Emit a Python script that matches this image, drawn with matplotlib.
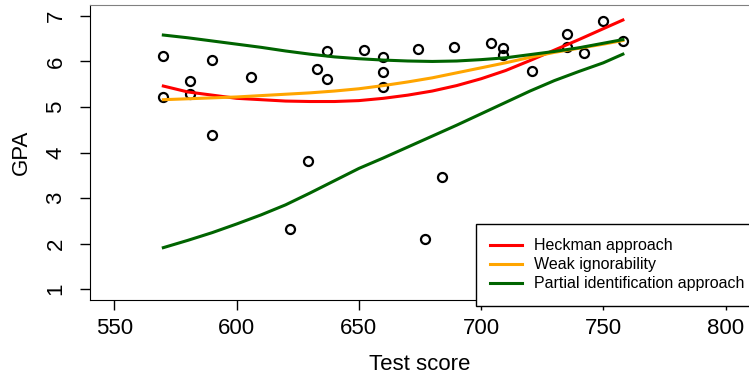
"""GPA vs test score with three fitted approaches."""

import matplotlib

matplotlib.use("Agg")
import matplotlib.pyplot as plt

plt.rcParams["font.family"] = ["Liberation Sans", "DejaVu Sans"]

# observed points
score = [570, 570, 581, 581, 590, 590, 606, 622, 629, 633, 637, 637, 652, 660, 660,
         660, 674, 677, 684, 689, 704, 709, 709, 721, 735, 735, 742, 750, 758]
gpa = [6.11, 5.23, 5.56, 5.29, 6.03, 4.38, 5.65, 2.31, 3.82, 5.84, 6.23, 5.61, 6.25, 6.09, 5.77,
       5.43, 6.28, 2.10, 3.46, 6.32, 6.41, 6.29, 6.14, 5.79, 6.61, 6.32, 6.19, 6.88, 6.44]

curve_x = [570, 580, 590, 600, 610, 620, 630, 640, 650, 660,
           670, 680, 690, 700, 710, 720, 730, 740, 750, 758]
heckman = [5.46, 5.33, 5.26, 5.19, 5.16, 5.13, 5.12, 5.12, 5.14, 5.19,
           5.26, 5.35, 5.47, 5.62, 5.80, 6.02, 6.25, 6.48, 6.72, 6.91]
weak_ign = [5.16, 5.18, 5.20, 5.22, 5.25, 5.28, 5.31, 5.35, 5.40, 5.47,
            5.55, 5.64, 5.75, 5.86, 5.97, 6.09, 6.20, 6.29, 6.38, 6.46]
partial_hi = [6.58, 6.52, 6.45, 6.38, 6.31, 6.23, 6.16, 6.10, 6.06, 6.03,
              6.01, 6.00, 6.01, 6.04, 6.08, 6.15, 6.22, 6.30, 6.40, 6.48]
partial_lo = [1.91, 2.07, 2.24, 2.43, 2.63, 2.85, 3.11, 3.38, 3.65, 3.88,
              4.12, 4.36, 4.60, 4.85, 5.10, 5.35, 5.58, 5.78, 5.97, 6.16]

xticks = [550, 600, 650, 700, 750, 800]
yticks = [1, 2, 3, 4, 5, 6, 7]


def main() -> None:
    fig = plt.figure(figsize=(7.49, 3.80), dpi=100)
    ax = fig.add_axes([90 / 749, 80 / 380, 660 / 749, 295 / 380])

    ax.plot(score, gpa, linestyle="none", marker="o", markersize=6.5,
            markerfacecolor="none", markeredgecolor="black", markeredgewidth=1.6)
    ax.plot(curve_x, heckman, color="red", lw=2.2, label="Heckman approach")
    ax.plot(curve_x, weak_ign, color="orange", lw=2.2, label="Weak ignorability")
    ax.plot(curve_x, partial_hi, color="darkgreen", lw=2.2,
            label="Partial identification approach")
    ax.plot(curve_x, partial_lo, color="darkgreen", lw=2.2)

    ax.set_xlim(540, 810)
    ax.set_ylim(0.76, 7.24)
    ax.set_xticks(xticks)
    ax.set_yticks(yticks)
    ax.tick_params(labelsize=16, length=7, width=1, pad=6)
    ax.tick_params(axis="y", labelrotation=90, pad=10)
    for lab in ax.get_yticklabels():
        lab.set_va("center")
    ax.set_xlabel("Test score", fontsize=16, labelpad=11)
    ax.set_ylabel("GPA", fontsize=16, labelpad=10)
    for side in ["top", "right"]:
        ax.spines[side].set_color("gray")

    leg = ax.legend(loc="upper left", bbox_to_anchor=(386 / 660, 76 / 295),
                    fontsize=11.5, frameon=True, fancybox=False, framealpha=1,
                    edgecolor="black", handlelength=2.0, handletextpad=0.75,
                    labelspacing=0.25, borderpad=0.9, borderaxespad=0)
    leg.get_frame().set_linewidth(1)

    fig.savefig("out.png", dpi=100)
    plt.close(fig)


if __name__ == "__main__":
    main()
